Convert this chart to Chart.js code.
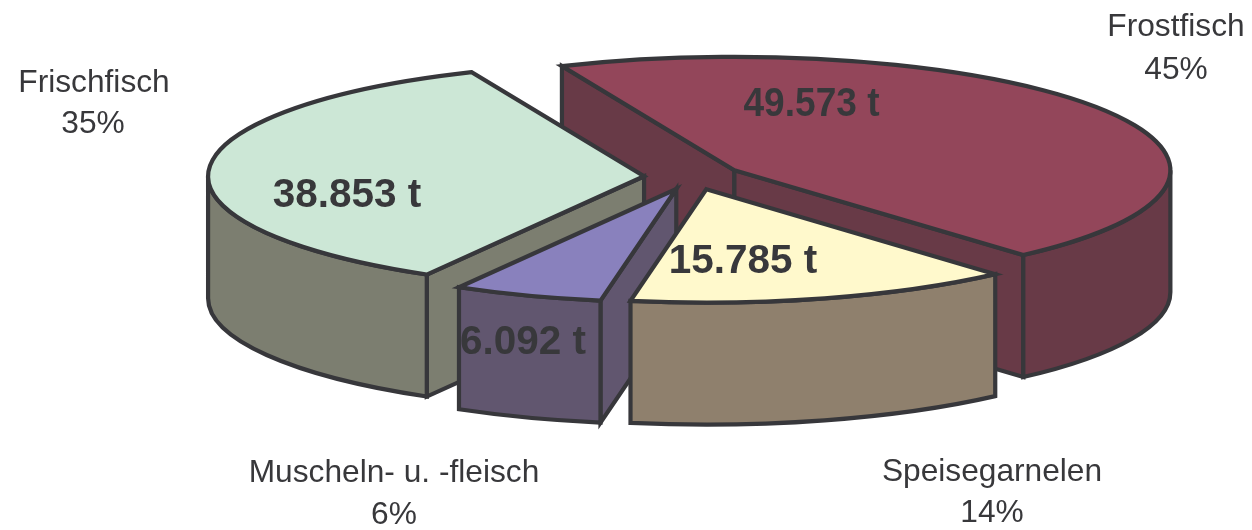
<!DOCTYPE html>
<html><head><meta charset="utf-8">
<style>html,body{margin:0;padding:0;background:#fff}canvas{display:block}</style>
<script src="https://cdn.jsdelivr.net/npm/chart.js@4"></script>
</head><body><canvas id="c" width="1252" height="530"></canvas>
<script>
const categories = ['Frostfisch','Speisegarnelen','Muscheln- u. -fleisch','Frischfisch'];
const tonnes = [49573,15785,6092,38853];
const tonneLabels = ['49.573 t','15.785 t','6.092 t','38.853 t'];
const percentLabels = ['45%','14%','6%','35%'];
const topColors = ['#93465a','#fff9cc','#8981bd','#cce7d6'];
const wallColors = ['#683a47','#8f806d','#61566f','#7c7e70'];
const paintOrder = [0,3,2,1];
const nameAnchors = [[1176,36],[992,481],[394,482],[94,92]];
const percentAnchors = [[1176,79],[992,522],[394,524],[93,133]];
const valueAnchors = [[811.5,102],[743,259],[523,340],[347,193]];
const valueWidths = [136,150,128,150];

const LINE='#37373b', TEXT='#38383b';
const CX=693, CY=177, RX=436, K=0.26, DEPTH=122, EXPLODE=49;

const pie3d = {
  id:'pie3d',
  beforeDatasetsDraw(chart){
    const ctx=chart.ctx, arcs=chart.getDatasetMeta(0).data;
    ctx.save();
    ctx.lineWidth=4.2; ctx.lineJoin='miter'; ctx.miterLimit=6; ctx.strokeStyle=LINE;
    for(const i of paintOrder){
      const a=arcs[i], s=a.startAngle, e=a.endAngle, R=a.outerRadius, m=(s+e)/2;
      const ax=CX+Math.cos(m)*EXPLODE, ay=CY+Math.sin(m)*EXPLODE*K, ry=R*K;
      const px=t=>ax+R*Math.cos(t), py=t=>ay+ry*Math.sin(t);
      // radial walls that face the viewer
      ctx.fillStyle=wallColors[i];
      const faces=[];
      if(Math.cos(s)<0) faces.push(s);
      if(Math.cos(e)>0) faces.push(e);
      for(const t of faces){
        ctx.beginPath();
        ctx.moveTo(ax,ay); ctx.lineTo(px(t),py(t));
        ctx.lineTo(px(t),py(t)+DEPTH); ctx.lineTo(ax,ay+DEPTH); ctx.closePath();
        ctx.fill(); ctx.stroke();
      }
      // outer wall: only the front half of the rim
      const fs=Math.max(s,0), fe=Math.min(e,Math.PI);
      if(fe>fs){
        ctx.beginPath();
        ctx.ellipse(ax,ay,R,ry,0,fs,fe);
        ctx.lineTo(px(fe),py(fe)+DEPTH);
        ctx.ellipse(ax,ay+DEPTH,R,ry,0,fe,fs,true);
        ctx.closePath();
        ctx.fill(); ctx.stroke();
      }
      // top face: the library's arc element, flattened
      ctx.save();
      ctx.translate(ax,ay); ctx.scale(1,K); ctx.translate(-a.x,-a.y);
      a.draw(ctx);
      ctx.restore();
      ctx.beginPath();
      ctx.moveTo(ax,ay);
      ctx.ellipse(ax,ay,R,ry,0,s,e);
      ctx.closePath();
      ctx.stroke();
    }
    ctx.restore();
    return false;
  },
  afterDraw(chart){
    const ctx=chart.ctx;
    ctx.save();
    ctx.fillStyle=TEXT; ctx.textAlign='center'; ctx.textBaseline='alphabetic';
    ctx.font='31.7px "Liberation Sans", Arial, sans-serif';
    categories.forEach((c,i)=>{
      ctx.fillText(c,nameAnchors[i][0],nameAnchors[i][1]);
      ctx.fillText(percentLabels[i],percentAnchors[i][0],percentAnchors[i][1]);
    });
    ctx.font='bold 40.5px "Liberation Sans", Arial, sans-serif';
    tonneLabels.forEach((t,i)=>{
      ctx.fillText(t,valueAnchors[i][0],valueAnchors[i][1]+14,valueWidths[i]);
    });
    ctx.restore();
  }
};

new Chart(document.getElementById('c'),{
  type:'pie',
  data:{labels:categories,datasets:[{data:tonnes,backgroundColor:topColors,borderWidth:0}]},
  options:{
    responsive:false,animation:false,
    rotation:-23.3,radius:RX,
    layout:{padding:0},
    plugins:{legend:{display:false},tooltip:{enabled:false}}
  },
  plugins:[pie3d]
});
</script></body></html>
